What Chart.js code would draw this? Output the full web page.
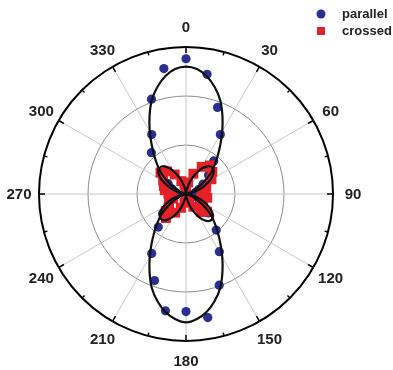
<!DOCTYPE html>
<html lang="en">
<head>
<meta charset="utf-8">
<title>Polarisation plot</title>
<script src="https://cdn.jsdelivr.net/npm/chart.js@4.4.1/dist/chart.umd.min.js"></script>
<style>
  body { margin: 0; background: #fff; }
  #wrap { width: 393px; height: 370px; position: relative; }
</style>
</head>
<body>
<div id="wrap"><canvas id="polarChart"></canvas></div>
<script>
  // angle categories, degrees clockwise from the top
  const angles = [0,5,10,15,20,25,30,35,40,45,50,55,60,65,70,75,80,85,
    90,95,100,105,110,115,120,125,130,135,140,145,150,155,160,165,170,175,
    180,185,190,195,200,205,210,215,220,225,230,235,240,245,250,255,260,265,
    270,275,280,285,290,295,300,305,310,315,320,325,330,335,340,345,350,355];
  const angleTicks = [0,30,60,90,120,150,180,210,240,270,300,330];

  // measured points, every 10 degrees
  const pointAngles = [0,10,20,30,40,50,60,70,80,90,100,110,120,130,140,150,160,170,
    180,190,200,210,220,230,240,250,260,270,280,290,300,310,320,330,340,350];
  const parallel = [138,124,94,70,44,30,20,14,10,8,10,13,19,30,48,68,99,128,
    120,121,94,70,44,31,21,15,11,9,11,15,21,32,55,70,103,130];
  const crossed = [6,12,22,32,38,35,30,22,16,20,22,16,20,28,24,15,9,6,
    6,9,15,22,32,27,20,14,15,18,22,24,27,34,30,23,14,9];

  // fitted curves, every 5 degrees
  const parallelFit = [130,128,122,113,102,88,74,61,50,41,33,24,16,10,5,2.5,1,0.3,
    0,0.3,1,2.5,5,10,16,24,33,41,50,61,74,88,102,113,122,128,
    131,128,122,113,102,88,74,61,50,41,33,24,16,10,5,2.5,1,0.3,
    0,0.3,1,2.5,5,10,16,24,33,41,50,61,74,88,102,113,122,128];
  const crossedFit = [0,1,4.5,9.5,16,22,28.5,33.5,37,38,37,33.5,28.5,22,16,9.5,4.5,1,
    0,1,4.4,9.3,15.5,21.7,27.8,32.7,36,37,36,32.7,27.8,21.7,15.5,9.3,4.4,1,
    0,1,4.2,9,15,21,27,31.8,35,36,35,31.8,27,21,15,9,4.2,1,
    0,1,4.5,9.5,16,22,28.5,33.5,37,38,37,33.5,28.5,22,16,9.5,4.5,1];

  function spread(values) {
    var out = angles.map(function () { return null; });
    pointAngles.forEach(function (a, i) { out[angles.indexOf(a)] = values[i]; });
    return out;
  }

  const textColor = '#222';
  const labelFont = "bold 15px 'Liberation Sans', Arial, sans-serif";
  const legendFont = "bold 13px 'Liberation Sans', Arial, sans-serif";

  // angle labels, rim ticks and the legend
  const polarDecor = {
    id: 'polarDecor',
    afterDraw: function (chart) {
      var ctx = chart.ctx;
      var r = chart.scales.r;
      var R = r.drawingArea;
      ctx.save();
      ctx.strokeStyle = '#000';
      ctx.lineWidth = 1.5;
      angles.forEach(function (a, i) {
        if (a % 15 !== 0) return;
        var len = a % 30 === 0 ? 6 : 3.5;
        var p1 = r.getPointPosition(i, R);
        var p2 = r.getPointPosition(i, R - len);
        ctx.beginPath();
        ctx.moveTo(p1.x, p1.y);
        ctx.lineTo(p2.x, p2.y);
        ctx.stroke();
      });

      ctx.fillStyle = textColor;
      ctx.font = labelFont;
      ctx.textAlign = 'center';
      ctx.textBaseline = 'middle';
      angleTicks.forEach(function (a) {
        var p = r.getPointPosition(angles.indexOf(a), R + 20);
        ctx.fillText(String(a), p.x, p.y + 1);
      });

      // legend
      ctx.fillStyle = '#2b2f8f';
      ctx.beginPath();
      ctx.arc(321, 14, 4.5, 0, Math.PI * 2);
      ctx.fill();
      ctx.fillStyle = '#e5212a';
      ctx.fillRect(317, 27, 8, 8);
      ctx.fillStyle = textColor;
      ctx.font = legendFont;
      ctx.textAlign = 'left';
      ctx.fillText('parallel', 342, 14);
      ctx.fillText('crossed', 342, 31);
      ctx.restore();
    }
  };

  new Chart(document.getElementById('polarChart'), {
    type: 'radar',
    data: {
      labels: angles,
      datasets: [
        {
          label: 'parallel fit',
          data: parallelFit,
          borderColor: '#111',
          borderWidth: 2.2,
          pointRadius: 0,
          fill: false,
          tension: 0.3,
          order: 0
        },
        {
          label: 'crossed fit',
          data: crossedFit,
          borderColor: '#111',
          borderWidth: 2.2,
          pointRadius: 0,
          fill: false,
          tension: 0.3,
          order: 0
        },
        {
          label: 'crossed',
          data: spread(crossed),
          showLine: false,
          borderColor: 'transparent',
          fill: false,
          pointStyle: 'rect',
          pointRadius: 7,
          pointBorderWidth: 0,
          pointBackgroundColor: '#e5212a',
          order: 1
        },
        {
          label: 'parallel',
          data: spread(parallel),
          showLine: false,
          borderColor: 'transparent',
          fill: false,
          pointStyle: 'circle',
          pointRadius: 4.6,
          pointBorderWidth: 0,
          pointBackgroundColor: '#2b2f8f',
          order: 2
        }
      ]
    },
    options: {
      responsive: true,
      maintainAspectRatio: false,
      animation: false,
      layout: { padding: { left: 39, right: 60, top: 47, bottom: 29 } },
      plugins: {
        legend: { display: false },
        tooltip: { enabled: false }
      },
      scales: {
        r: {
          min: 0,
          max: 150,
          startAngle: 0,
          ticks: { display: false, stepSize: 50 },
          pointLabels: { display: false },
          grid: {
            circular: true,
            color: function (c) { return c.tick && c.tick.value === 150 ? '#000' : '#8c8c8c'; },
            lineWidth: function (c) { return c.tick && c.tick.value === 150 ? 2 : 1; }
          },
          angleLines: {
            color: '#c8c8c8',
            lineWidth: function (c) { return c.index % 6 === 0 ? 1 : 0; }
          }
        }
      }
    },
    plugins: [polarDecor]
  });
</script>
</body>
</html>
